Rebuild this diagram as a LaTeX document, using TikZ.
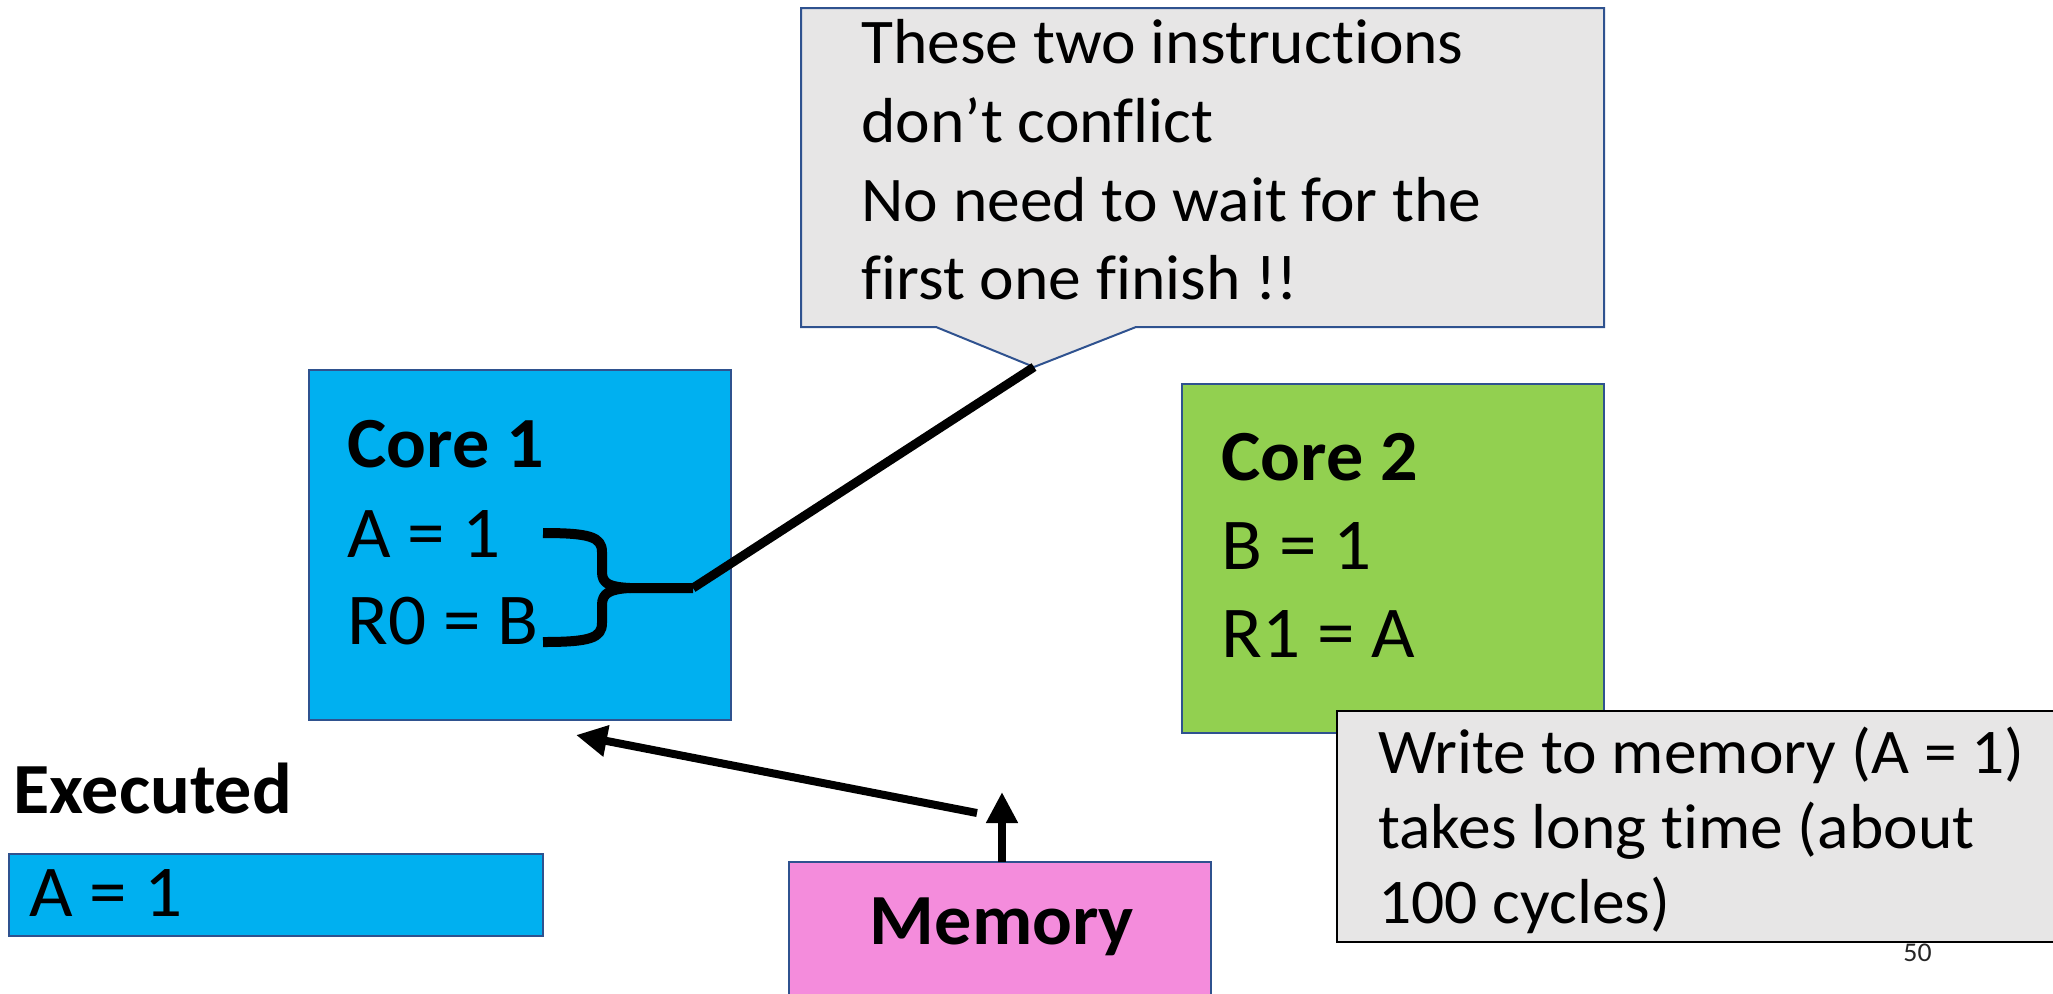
\documentclass[tikz,border=0pt]{standalone}
\usepackage{fontspec}
\setmainfont{Carlito}[Ligatures=NoCommon, FakeStretch=1.03]
\usetikzlibrary{arrows.meta}
\definecolor{coreblue}{HTML}{00B0F0}
\definecolor{coregreen}{HTML}{92D050}
\definecolor{mempink}{HTML}{F48CDC}
\definecolor{notegrey}{HTML}{E7E6E6}
\definecolor{edgeblue}{HTML}{2F528F}
\tikzset{
  box/.style={draw=edgeblue, line width=1pt, inner sep=0pt, outer sep=0pt, anchor=north west},
  notebox/.style={draw=black, line width=1.3pt, fill=notegrey, inner sep=0pt, outer sep=0pt, anchor=north west},
  big/.style={anchor=base west, inner sep=0pt, font=\fontsize{36.5}{44}\selectfont},
  bigbold/.style={anchor=base west, inner sep=0pt, font=\fontsize{36}{44}\selectfont\bfseries},
  callout text/.style={anchor=base west, inner sep=0pt, font=\fontsize{31.8}{39}\selectfont},
  note text/.style={anchor=base west, inner sep=0pt, font=\fontsize{31.8}{39}\selectfont},
  thick line/.style={line width=4.5pt, line cap=butt},
  brace line/.style={line width=5pt, line join=round},
  arrow line/.style={line width=4pt, -{Triangle[length=15.5pt, width=15pt]}}
}
\begin{document}
\begin{tikzpicture}[x=0.5pt, y=-0.5pt]
\useasboundingbox (0,0) rectangle (2053,993);

% speech bubble with its pointer
\path[fill=notegrey, draw=edgeblue, line width=1pt]
  (801,8) -- (1604,8) -- (1604,327) -- (1136,327) -- (1034,367)
  -- (936,327) -- (801,327) -- cycle;
\coordinate (tip) at (1034,367);
\node[callout text] (n1) at (861,63)  {These two instructions};
\node[callout text] (n2) at (861,142) {don’t conflict};
\node[callout text] (n3) at (861,221) {No need to wait for the};
\node[callout text] (n4) at (861,299) {first one finish !!};

% core 1
\node[box, fill=coreblue, minimum width=211pt, minimum height=175pt] (core1) at (309,370) {};
\node[bigbold] (c1t) at (347,467) {Core 1};
\node[big] (c1a) at (347,557) {A = 1};
\node[big] (c1b) at (347,644) {R0 = B};

% brace grouping the two instructions
\coordinate (brtip) at (693,588);
\draw[brace line] (543,533) .. controls (590,533) and (602,537) .. (602,552)
  -- (602,572) .. controls (602,584) and (610,587) .. (630,588) -- (brtip);
\draw[brace line] (543,642) .. controls (590,642) and (602,638) .. (602,623)
  -- (602,605) .. controls (602,593) and (610,589) .. (630,588);
\draw[thick line] (brtip) -- (tip);

% core 2
\node[box, fill=coregreen, minimum width=211pt, minimum height=174.5pt] (core2) at (1182,384) {};
\node[bigbold] (c2t) at (1221,480) {Core 2};
\node[big] (c2a) at (1221,569) {B = 1};
\node[big] (c2b) at (1221,657) {R1 = A};

% note on the write latency
\node[notebox, minimum width=362pt, minimum height=115.5pt] (note) at (1337,711) {};
\node[note text] (w1) at (1378,773) {Write to memory (A = 1)};
\node[note text] (w2) at (1378,848) {takes long time (about};
\node[note text] (w3) at (1378,923) {100 cycles)};

% executed list
\node[bigbold] (exec) at (13,813) {Executed};
\node[box, fill=coreblue, minimum width=267pt, minimum height=41pt] (execbox) at (9,854) {};
\node[big] (exa) at (29,916) {A = 1};

% memory
\node[box, fill=mempink, minimum width=211pt, minimum height=75pt] (mem) at (789,862) {};
\node[anchor=base, inner sep=0pt, font=\fontsize{36}{44}\selectfont\bfseries] (memt) at (1002,944) {Memory};

% arrows
\coordinate (up) at (1002,792);
\draw[arrow line] (mem.north -| up) -- (up);
\coordinate (from) at (977,813);
\coordinate (to) at (576,735);
\draw[arrow line] (from) -- (to);

% slide number
\node[anchor=base west, inner sep=0pt, font=\fontsize{13.5}{16}\selectfont, text=black!85] (pg) at (1903,961) {50};
\end{tikzpicture}
\end{document}
